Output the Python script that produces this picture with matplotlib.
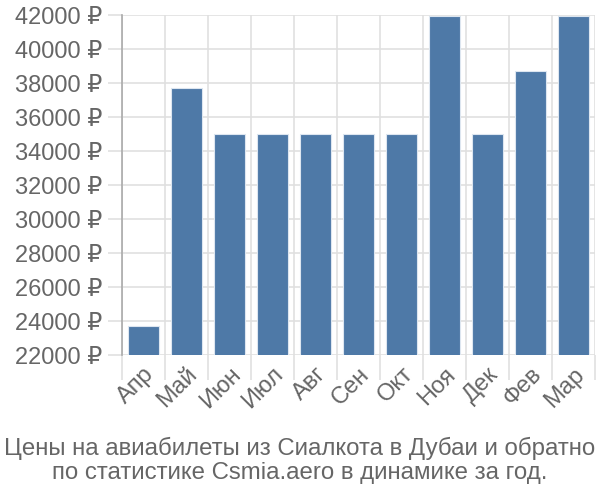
import matplotlib.pyplot as plt
import numpy as np

months = ['Апр', 'Май', 'Июн', 'Июл', 'Авг', 'Сен', 'Окт', 'Ноя', 'Дек', 'Фев', 'Мар']
prices = [23700, 37700, 35000, 35000, 35000, 35000, 35000, 41950, 35000, 38700, 41950]
y_ticks = list(range(22000, 42001, 2000))

plt.rcParams['font.family'] = ['Liberation Sans', 'DejaVu Sans']
grey = '#666666'

fig = plt.figure(figsize=(6, 5), dpi=100)
ax = fig.add_axes([0.203, 0.29, 0.789, 0.68])

x = np.arange(len(months))
ax.bar(x, prices, width=0.72, color='#4e79a7', edgecolor='#dde6f0', linewidth=0.8, zorder=3)

ax.set_xlim(-0.5, len(months) - 0.5)
ax.set_ylim(22000, 42000)
ax.set_yticks(y_ticks)
ax.set_yticklabels([f'{v} ₽' for v in y_ticks], fontsize=17, color=grey)

ax.set_xticks(x)
ax.set_xticklabels(months, rotation=45, ha='right', rotation_mode='anchor', fontsize=17, color=grey)
ax.set_xticks(np.arange(-0.5, len(months)), minor=True)
ax.tick_params(axis='x', which='major', length=0, pad=6)
ax.tick_params(axis='x', which='minor', length=18, color='#e0e0e0', width=1.2)
ax.tick_params(axis='y', length=10, color='#e0e0e0', width=1.2, pad=4)

ax.grid(axis='y', color='#e0e0e0', linewidth=1.2, zorder=0)
ax.grid(axis='x', which='minor', color='#e0e0e0', linewidth=1.2, zorder=0)

for s in ['top', 'right', 'bottom']:
    ax.spines[s].set_visible(False)
ax.spines['left'].set_color('#aaaaaa')
ax.spines['left'].set_linewidth(1.2)
ax.spines['left'].set_bounds(22000, 42000)

fig.text(0.5, 0.079, 'Цены на авиабилеты из Сиалкота в Дубаи и обратно\nпо статистике Csmia.aero в динамике за год.',
         ha='center', va='center', fontsize=17.3, color=grey, linespacing=1.15)

fig.savefig('out.png', dpi=100)
